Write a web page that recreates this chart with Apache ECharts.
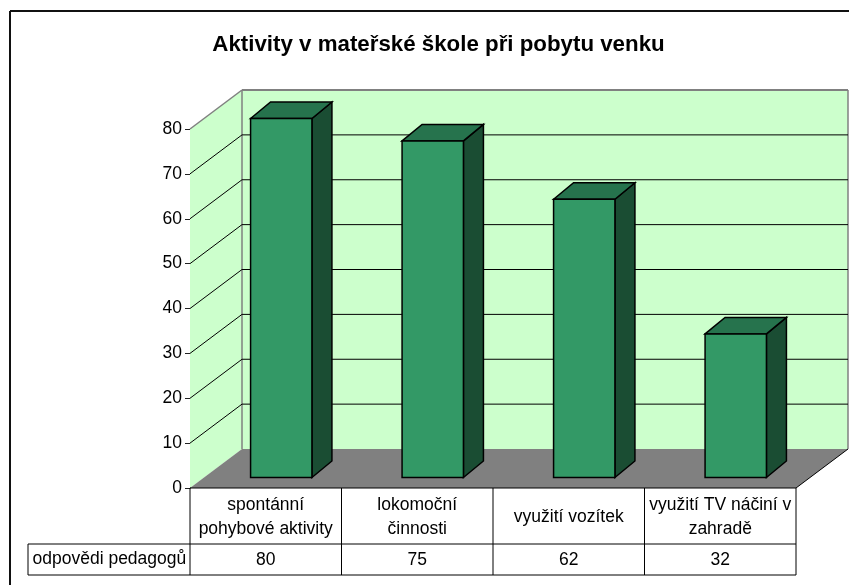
<!DOCTYPE html>
<html><head><meta charset="utf-8">
<script src="https://cdn.jsdelivr.net/npm/echarts@6/dist/echarts.min.js"></script>
<style>html,body{margin:0;padding:0;background:#fff}#c{width:849px;height:585px}</style>
</head><body><div id="c"></div>
<script>
const titleText = 'Aktivity v mateřské škole při pobytu venku';
const categories = ['spontánní\npohybové aktivity', 'lokomoční\nčinnosti', 'využití vozítek', 'využití TV náčiní v\nzahradě'];
const seriesName = 'odpovědi pedagogů';
const values = [80, 75, 62, 32];
const yTicks = [0, 10, 20, 30, 40, 50, 60, 70, 80];

const FONT = '"Liberation Sans", Arial, sans-serif';
const DX = 52, DY = -39;            // wall depth
const NEAR_X = 15.5, NEAR_Y = -10.5; // bar front offset from the front plane
const BAR_DX = 20, BAR_DY = -16.5;  // bar depth
const GAP = 0.405;                  // bar width as a share of the band
const GREY = '#808080', WALL = '#CCFFCC';
const TXT = 17.5;

function poly(points, fill, stroke, lw) {
  return { type: 'polygon', shape: { points }, style: { fill, stroke: stroke || 'none', lineWidth: lw || 0 } };
}
function seg(x1, y1, x2, y2, color, lw) {
  return { type: 'line', shape: { x1, y1, x2, y2 }, style: { stroke: color, lineWidth: lw || 1 } };
}

const chart = echarts.init(document.getElementById('c'), null, { renderer: 'canvas' });
chart.setOption({
  animation: false,
  backgroundColor: '#fff',
  title: {
    text: titleText, left: 433.5, top: 29, textAlign: 'center',
    textStyle: { fontFamily: FONT, fontSize: 22.3, fontWeight: 'bold', color: '#000' }
  },
  grid: { left: 190, right: 53, top: 129, height: 359, containLabel: false },
  xAxis: [{
    type: 'category', data: categories, position: 'bottom',
    axisLine: { show: false }, axisTick: { show: false }, splitLine: { show: false },
    axisLabel: { interval: 0, margin: 29, verticalAlign: 'middle', lineHeight: 24, fontFamily: FONT, fontSize: TXT, color: '#000' }
  }, {
    type: 'category', data: values.map(String), position: 'bottom', offset: 56,
    axisLine: { show: false }, axisTick: { show: false }, splitLine: { show: false },
    axisLabel: { interval: 0, margin: 16, verticalAlign: 'middle', fontFamily: FONT, fontSize: TXT, color: '#000' }
  }],
  yAxis: {
    type: 'value', min: 0, max: 80, interval: 10,
    axisLine: { show: true, lineStyle: { color: '#000', width: 1 } },
    axisTick: { show: true, length: 5, lineStyle: { color: '#222' } },
    splitLine: { show: false },
    axisLabel: { margin: 8, padding: [2, 0, 0, 0], fontFamily: FONT, fontSize: TXT, color: '#000' }
  },
  series: [
    { // walls and floor
      type: 'custom', z: 1, clip: false, silent: true, data: [0],
      renderItem(p, api) {
        const n = categories.length;
        const [x0, y0] = api.coord([0, 0]);
        const band = api.size([1, 0])[0];
        const L = x0 - band / 2, R = L + band * n;
        const T = api.coord([0, 80])[1];
        const children = [
          poly([[L + DX, T + DY], [R + DX, T + DY], [R + DX, y0 + DY], [L + DX, y0 + DY]], WALL),
          poly([[L, T], [L + DX, T + DY], [L + DX, y0 + DY], [L, y0]], WALL),
          poly([[L, y0], [R, y0], [R + DX, y0 + DY], [L + DX, y0 + DY]], GREY),
          seg(L, T, L + DX, T + DY, GREY, 1.5),
          seg(L + DX, T + DY, R + DX, T + DY, GREY, 2),
          seg(R + DX, T + DY, R + DX, y0 + DY, GREY, 1.5),
          seg(L + DX, T + DY, L + DX, y0 + DY, GREY, 1.5)
        ];
        return { type: 'group', children };
      }
    },
    { // gridlines on the side and back walls
      type: 'custom', z: 2, clip: false, silent: true,
      data: yTicks.slice(1, -1).map(v => [v]),
      encode: { y: 0 },
      renderItem(p, api) {
        const v = api.value(0);
        const n = categories.length;
        const [x0, y] = api.coord([0, v]);
        const band = api.size([1, 0])[0];
        const L = x0 - band / 2, R = L + band * n;
        return { type: 'group', children: [
          seg(L, y, L + DX, y + DY, '#000', 1),
          seg(L + DX, y + DY, R + DX, y + DY, '#000', 1)
        ] };
      }
    },
    { // 3D bars
      type: 'custom', z: 3, clip: false, silent: true,
      data: values.map((v, i) => [i, v]),
      encode: { x: 0, y: 1 },
      renderItem(p, api) {
        const [cx, top] = api.coord([api.value(0), api.value(1)]);
        const base = api.coord([api.value(0), 0])[1];
        const w = api.size([1, 0])[0] * GAP;
        const x1 = cx - w / 2 + NEAR_X, x2 = x1 + w;
        const yT = top + NEAR_Y, yB = base + NEAR_Y;
        const ox = BAR_DX, oy = BAR_DY;
        const border = '#000';
        return { type: 'group', children: [
          poly([[x2, yT], [x2 + ox, yT + oy], [x2 + ox, yB + oy], [x2, yB]], '#1A4D33', border, 1.5),
          poly([[x1, yT], [x1 + ox, yT + oy], [x2 + ox, yT + oy], [x2, yT]], '#26734D', border, 1.5),
          poly([[x1, yT], [x2, yT], [x2, yB], [x1, yB]], '#339966', border, 1.5)
        ] };
      }
    },
    { // data table rules and row header
      type: 'custom', z: 4, clip: false, silent: true, data: [0],
      renderItem(p, api) {
        const n = categories.length;
        const [x0, y0] = api.coord([0, 0]);
        const band = api.size([1, 0])[0];
        const L = x0 - band / 2, R = L + band * n;
        const r1 = y0 + 56, r2 = y0 + 87, H = L - 162;
        const kids = [
          seg(L, y0, R, y0, '#000'),
          seg(H, r1, R, r1, '#000'),
          seg(H, r2, R, r2, '#000'),
          seg(H, r1, H, r2, '#000'),
          { type: 'text', style: { x: H + 4.5, y: (r1 + r2) / 2, text: seriesName, fontFamily: FONT, fontSize: TXT, fill: '#000', textAlign: 'left', textVerticalAlign: 'middle' } }
        ];
        for (let i = 0; i <= n; i++) {
          const x = L + band * i;
          kids.push(seg(x, y0, x, r2, '#000'));
        }
        kids.push(seg(R, y0, R + DX, y0 + DY, '#000'));
        return { type: 'group', children: kids };
      }
    }
  ],
  graphic: [
    { type: 'line', shape: { x1: 10, y1: 11, x2: 849, y2: 11 }, style: { stroke: '#111', lineWidth: 2 } },
    { type: 'line', shape: { x1: 10, y1: 11, x2: 10, y2: 585 }, style: { stroke: '#111', lineWidth: 2 } }
  ]
});
</script></body></html>
